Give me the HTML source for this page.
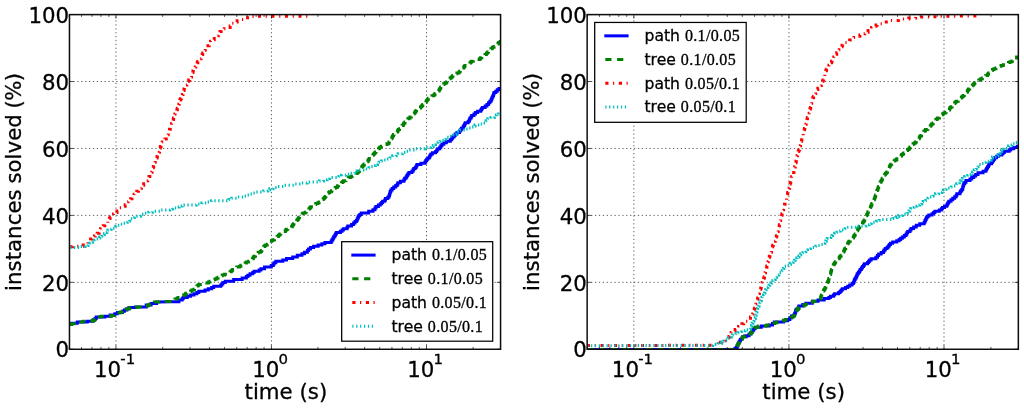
<!DOCTYPE html>
<html lang="en">
<head>
<meta charset="utf-8">
<title>instances solved vs time</title>
<style>
html,body{margin:0;padding:0;background:#fff;}
body{width:1024px;height:408px;overflow:hidden;}
svg{display:block;}
svg text{stroke:#000;stroke-width:0.3px;}
svg text tspan.n{stroke-width:0.32px;}
</style>
</head>
<body>
<svg width="1024" height="408" viewBox="0 0 1024 408">
<rect x="0" y="0" width="1024" height="408" fill="#ffffff"/>
<defs><filter id="soft" x="0" y="0" width="1024" height="408" filterUnits="userSpaceOnUse"><feGaussianBlur stdDeviation="0.42"/></filter>
<clipPath id="clipL"><rect x="69.47" y="14.60" width="431.09" height="334.65"/></clipPath>
<clipPath id="clipR"><rect x="587.15" y="14.60" width="431.20" height="334.65"/></clipPath>
</defs>
<g filter="url(#soft)">
<g stroke="#000" stroke-width="1" stroke-dasharray="1.3 2.6" fill="none" opacity="0.62"><line x1="115.94" y1="349.25" x2="115.94" y2="14.60"/><line x1="271.44" y1="349.25" x2="271.44" y2="14.60"/><line x1="426.50" y1="349.25" x2="426.50" y2="14.60"/><line x1="69.47" y1="282.32" x2="500.56" y2="282.32"/><line x1="69.47" y1="215.39" x2="500.56" y2="215.39"/><line x1="69.47" y1="148.46" x2="500.56" y2="148.46"/><line x1="69.47" y1="81.53" x2="500.56" y2="81.53"/></g>
<g clip-path="url(#clipL)">
<path d="M70.00 324.50 L71.63 324.50 L71.63 323.25 L77.28 323.25 L77.28 322.00 L79.00 322.00 L87.23 322.00 L87.23 321.25 L91.50 321.25 L93.15 321.25 L93.15 319.83 L95.02 319.83 L95.02 318.42 L96.23 318.42 L96.23 317.00 L99.00 317.00 L104.91 317.00 L104.91 316.25 L109.00 316.25 L110.17 316.25 L110.17 315.00 L114.80 315.00 L114.80 313.75 L116.50 313.75 L117.38 313.75 L117.38 312.50 L122.51 312.50 L122.51 311.25 L124.00 311.25 L124.42 311.25 L124.42 310.00 L126.87 310.00 L126.87 308.75 L128.94 308.75 L128.94 307.50 L130.25 307.50 L135.51 307.50 L135.51 307.00 L141.50 307.00 L146.25 307.00 L146.25 305.00 L149.00 305.00 L151.08 305.00 L151.08 303.50 L156.59 303.50 L156.59 302.00 L157.75 302.00 L171.50 301.75 L178.91 301.75 L178.91 300.00 L181.50 300.00 L182.15 300.00 L182.15 298.75 L183.18 298.75 L183.18 297.50 L187.25 297.50 L187.25 296.25 L190.63 296.25 L190.63 295.00 L191.50 295.00 L193.96 295.00 L193.96 293.75 L196.86 293.75 L196.86 292.50 L198.83 292.50 L198.83 291.25 L204.00 291.25 L205.01 291.25 L205.01 290.00 L208.25 290.00 L208.25 288.75 L211.69 288.75 L211.69 287.50 L213.71 287.50 L213.71 286.25 L219.00 286.25 L220.81 286.25 L220.81 285.00 L221.89 285.00 L221.89 283.75 L222.90 283.75 L222.90 282.50 L225.26 282.50 L225.26 281.25 L229.00 281.25 L233.67 281.25 L233.67 279.50 L241.50 279.50 L242.13 279.50 L242.13 278.06 L246.34 278.06 L246.34 276.62 L247.85 276.62 L247.85 275.19 L250.03 275.19 L250.03 273.75 L251.50 273.75 L252.73 273.75 L252.73 272.50 L254.12 272.50 L254.12 271.25 L259.16 271.25 L259.16 270.00 L260.96 270.00 L260.96 268.75 L261.50 268.75 L264.50 268.75 L264.50 267.00 L269.00 267.00 L271.27 267.00 L271.27 265.56 L273.33 265.56 L273.33 264.12 L274.12 264.12 L274.12 262.69 L275.84 262.69 L275.84 261.25 L276.50 261.25 L282.78 261.25 L282.78 259.88 L286.48 259.88 L286.48 258.50 L289.00 258.50 L292.73 258.50 L292.73 256.92 L297.29 256.92 L297.29 255.33 L301.94 255.33 L301.94 253.75 L304.00 253.75 L304.53 253.75 L304.53 252.19 L307.40 252.19 L307.40 250.62 L308.53 250.62 L308.53 249.06 L310.43 249.06 L310.43 247.50 L311.50 247.50 L313.59 247.50 L313.59 246.25 L318.12 246.25 L318.12 245.00 L320.00 245.00 L321.83 245.00 L321.83 243.75 L324.94 243.75 L324.94 242.50 L329.00 242.50 L331.22 242.50 L331.22 241.07 L332.05 241.07 L332.05 239.64 L332.92 239.64 L332.92 238.21 L333.63 238.21 L333.63 236.79 L334.79 236.79 L334.79 235.36 L335.44 235.36 L335.44 233.93 L336.34 233.93 L336.34 232.50 L337.75 232.50 L340.40 232.50 L340.40 231.25 L342.07 231.25 L342.07 230.00 L343.40 230.00 L343.40 228.75 L346.50 228.75 L347.01 228.75 L347.01 227.31 L347.82 227.31 L347.82 225.88 L351.54 225.88 L351.54 224.44 L353.55 224.44 L353.55 223.00 L354.00 223.00 L354.98 223.00 L354.98 221.57 L356.41 221.57 L356.41 220.14 L357.33 220.14 L357.33 218.71 L357.93 218.71 L357.93 217.29 L358.60 217.29 L358.60 215.86 L359.82 215.86 L359.82 214.43 L361.21 214.43 L361.21 213.00 L361.50 213.00 L368.66 213.00 L368.66 211.25 L371.50 211.25 L372.92 211.25 L372.92 209.69 L374.94 209.69 L374.94 208.12 L375.98 208.12 L375.98 206.56 L378.41 206.56 L378.41 205.00 L379.00 205.00 L380.32 205.00 L380.32 203.75 L381.66 203.75 L381.66 202.50 L382.62 202.50 L382.62 201.25 L384.78 201.25 L384.78 200.00 L385.25 200.00 L385.45 200.00 L385.45 198.57 L387.73 198.57 L387.73 197.14 L388.92 197.14 L388.92 195.71 L389.44 195.71 L389.44 194.29 L389.89 194.29 L389.89 192.86 L390.29 192.86 L390.29 191.43 L390.89 191.43 L390.89 190.00 L391.50 190.00 L392.17 190.00 L392.17 188.54 L393.70 188.54 L393.70 187.08 L395.72 187.08 L395.72 185.62 L397.20 185.62 L397.20 184.17 L397.92 184.17 L397.92 182.71 L400.39 182.71 L400.39 181.25 L401.50 181.25 L403.91 181.25 L403.91 179.79 L404.64 179.79 L404.64 178.33 L406.08 178.33 L406.08 176.88 L406.86 176.88 L406.86 175.42 L407.73 175.42 L407.73 173.96 L408.91 173.96 L408.91 172.50 L411.50 172.50 L411.88 172.50 L411.88 171.17 L413.05 171.17 L413.05 169.83 L413.78 169.83 L413.78 168.50 L415.31 168.50 L415.31 167.17 L416.38 167.17 L416.38 165.83 L417.01 165.83 L417.01 164.50 L419.00 164.50 L420.93 164.50 L420.93 163.20 L424.98 163.20 L424.98 161.90 L425.79 161.90 L425.79 160.60 L426.70 160.60 L426.70 159.30 L427.77 159.30 L427.77 158.00 L429.00 158.00 L429.37 158.00 L429.37 156.68 L429.96 156.68 L429.96 155.36 L430.93 155.36 L430.93 154.04 L432.50 154.04 L432.50 152.71 L435.61 152.71 L435.61 151.39 L436.68 151.39 L436.68 150.07 L437.76 150.07 L437.76 148.75 L439.00 148.75 L439.82 148.75 L439.82 147.25 L440.86 147.25 L440.86 145.75 L441.96 145.75 L441.96 144.25 L443.87 144.25 L443.87 142.75 L446.35 142.75 L446.35 141.25 L449.00 141.25 L450.34 141.25 L450.34 139.79 L451.64 139.79 L451.64 138.33 L452.60 138.33 L452.60 136.88 L454.06 136.88 L454.06 135.42 L455.16 135.42 L455.16 133.96 L456.94 133.96 L456.94 132.50 L459.00 132.50 L459.39 132.50 L459.39 131.09 L460.40 131.09 L460.40 129.69 L461.38 129.69 L461.38 128.28 L463.07 128.28 L463.07 126.88 L463.78 126.88 L463.78 125.47 L464.59 125.47 L464.59 124.06 L465.31 124.06 L465.31 122.66 L468.15 122.66 L468.15 121.25 L469.00 121.25 L469.33 121.25 L469.33 119.79 L469.84 119.79 L469.84 118.33 L470.91 118.33 L470.91 116.88 L471.69 116.88 L471.69 115.42 L473.98 115.42 L473.98 113.96 L475.43 113.96 L475.43 112.50 L476.50 112.50 L477.60 112.50 L477.60 111.25 L480.68 111.25 L480.68 110.00 L481.55 110.00 L481.55 108.75 L482.36 108.75 L482.36 107.50 L484.00 107.50 L485.14 107.50 L485.14 105.94 L486.98 105.94 L486.98 104.38 L488.55 104.38 L488.55 102.81 L489.85 102.81 L489.85 101.25 L490.25 101.25 L491.09 101.25 L491.09 99.79 L491.71 99.79 L491.71 98.33 L492.27 98.33 L492.27 96.88 L492.97 96.88 L492.97 95.42 L493.48 95.42 L493.48 93.96 L494.03 93.96 L494.03 92.50 L495.25 92.50 L495.80 92.50 L495.80 91.17 L497.28 91.17 L497.28 89.83 L499.06 89.83 L499.06 88.50 L500.60 88.50" fill="none" stroke="#0000ff" stroke-width="3" stroke-linejoin="miter" stroke-linecap="butt"/>
<path d="M70.00 324.50 L71.33 324.50 L71.33 323.67 L75.92 323.67 L75.92 322.83 L77.58 322.83 L77.58 322.00 L79.00 322.00 L83.41 322.00 L83.41 321.25 L91.50 321.25 L92.22 321.25 L92.22 320.40 L94.42 320.40 L94.42 319.55 L95.23 319.55 L95.23 318.70 L96.53 318.70 L96.53 317.85 L97.75 317.85 L97.75 317.00 L99.00 317.00 L101.17 317.00 L101.17 316.25 L109.00 316.25 L111.45 316.25 L111.45 315.42 L113.93 315.42 L113.93 314.58 L115.26 314.58 L115.26 313.75 L116.50 313.75 L117.01 313.75 L117.01 312.92 L120.00 312.92 L120.00 312.08 L122.25 312.08 L122.25 311.25 L124.00 311.25 L124.35 311.25 L124.35 310.50 L124.86 310.50 L124.86 309.75 L126.11 309.75 L126.11 309.00 L129.13 309.00 L129.13 308.25 L129.79 308.25 L129.79 307.50 L130.25 307.50 L136.15 307.50 L136.15 307.00 L141.50 307.00 L143.97 307.00 L143.97 306.00 L147.98 306.00 L147.98 305.00 L149.00 305.00 L149.59 305.00 L149.59 304.25 L151.45 304.25 L151.45 303.50 L152.35 303.50 L152.35 302.75 L154.28 302.75 L154.28 302.00 L157.75 302.00 L164.11 302.00 L164.11 301.50 L171.50 301.50 L173.21 301.50 L173.21 300.70 L174.09 300.70 L174.09 299.90 L174.90 299.90 L174.90 299.10 L177.06 299.10 L177.06 298.30 L178.07 298.30 L178.07 297.50 L181.50 297.50 L181.79 297.50 L181.79 296.67 L182.82 296.67 L182.82 295.83 L183.63 295.83 L183.63 295.00 L185.05 295.00 L185.05 294.17 L185.78 294.17 L185.78 293.33 L186.93 293.33 L186.93 292.50 L187.75 292.50 L188.79 292.50 L188.79 291.70 L190.67 291.70 L190.67 290.90 L191.72 290.90 L191.72 290.10 L193.85 290.10 L193.85 289.30 L194.58 289.30 L194.58 288.50 L195.10 288.50 L195.10 287.70 L196.28 287.70 L196.28 286.90 L196.93 286.90 L196.93 286.10 L197.90 286.10 L197.90 285.30 L198.72 285.30 L198.72 284.50 L199.00 284.50 L201.90 284.50 L201.90 283.69 L205.28 283.69 L205.28 282.88 L208.47 282.88 L208.47 282.06 L209.99 282.06 L209.99 281.25 L211.50 281.25 L212.07 281.25 L212.07 280.47 L213.74 280.47 L213.74 279.69 L214.88 279.69 L214.88 278.91 L216.79 278.91 L216.79 278.12 L218.10 278.12 L218.10 277.34 L219.05 277.34 L219.05 276.56 L219.98 276.56 L219.98 275.78 L222.17 275.78 L222.17 275.00 L224.00 275.00 L224.57 275.00 L224.57 274.20 L228.27 274.20 L228.27 273.40 L229.04 273.40 L229.04 272.60 L230.05 272.60 L230.05 271.80 L231.11 271.80 L231.11 271.00 L231.88 271.00 L231.88 270.20 L232.59 270.20 L232.59 269.40 L234.57 269.40 L234.57 268.60 L235.43 268.60 L235.43 267.80 L236.71 267.80 L236.71 267.00 L239.00 267.00 L239.55 267.00 L239.55 266.18 L240.88 266.18 L240.88 265.36 L242.79 265.36 L242.79 264.54 L244.01 264.54 L244.01 263.71 L245.13 263.71 L245.13 262.89 L246.36 262.89 L246.36 262.07 L248.61 262.07 L248.61 261.25 L249.00 261.25 L250.43 261.25 L250.43 260.43 L250.99 260.43 L250.99 259.60 L252.38 259.60 L252.38 258.77 L253.03 258.77 L253.03 257.95 L253.53 257.95 L253.53 257.12 L254.10 257.12 L254.10 256.30 L255.50 256.30 L255.50 255.47 L256.35 255.47 L256.35 254.65 L257.20 254.65 L257.20 253.82 L257.72 253.82 L257.72 253.00 L258.00 253.00 L258.17 253.00 L258.17 252.19 L260.42 252.19 L260.42 251.38 L261.42 251.38 L261.42 250.56 L261.87 250.56 L261.87 249.75 L262.26 249.75 L262.26 248.94 L262.60 248.94 L262.60 248.12 L263.14 248.12 L263.14 247.31 L263.70 247.31 L263.70 246.50 L264.00 246.50 L264.50 246.50 L264.50 245.75 L265.66 245.75 L265.66 245.00 L267.24 245.00 L267.24 244.25 L268.06 244.25 L268.06 243.50 L268.56 243.50 L268.56 242.75 L269.20 242.75 L269.20 242.00 L269.67 242.00 L269.67 241.25 L271.62 241.25 L271.62 240.50 L272.50 240.50 L272.94 240.50 L272.94 239.68 L274.51 239.68 L274.51 238.86 L275.36 238.86 L275.36 238.05 L276.69 238.05 L276.69 237.23 L277.22 237.23 L277.22 236.41 L278.44 236.41 L278.44 235.59 L279.09 235.59 L279.09 234.77 L279.95 234.77 L279.95 233.95 L280.75 233.95 L280.75 233.14 L281.41 233.14 L281.41 232.32 L281.95 232.32 L281.95 231.50 L285.00 231.50 L285.27 231.50 L285.27 230.73 L285.65 230.73 L285.65 229.95 L286.41 229.95 L286.41 229.18 L287.80 229.18 L287.80 228.41 L290.68 228.41 L290.68 227.64 L291.53 227.64 L291.53 226.86 L292.15 226.86 L292.15 226.09 L292.52 226.09 L292.52 225.32 L292.99 225.32 L292.99 224.55 L293.51 224.55 L293.51 223.77 L293.98 223.77 L293.98 223.00 L295.00 223.00 L295.58 223.00 L295.58 222.17 L296.16 222.17 L296.16 221.33 L296.79 221.33 L296.79 220.50 L297.18 220.50 L297.18 219.67 L298.00 219.67 L298.00 218.83 L298.47 218.83 L298.47 218.00 L299.10 218.00 L299.10 217.17 L299.57 217.17 L299.57 216.33 L300.56 216.33 L300.56 215.50 L301.33 215.50 L301.33 214.67 L302.25 214.67 L302.25 213.83 L303.10 213.83 L303.10 213.00 L305.00 213.00 L305.33 213.00 L305.33 212.22 L306.19 212.22 L306.19 211.44 L307.02 211.44 L307.02 210.67 L307.53 210.67 L307.53 209.89 L308.89 209.89 L308.89 209.11 L309.47 209.11 L309.47 208.33 L310.16 208.33 L310.16 207.56 L310.75 207.56 L310.75 206.78 L313.26 206.78 L313.26 206.00 L314.00 206.00 L314.30 206.00 L314.30 205.20 L314.79 205.20 L314.79 204.40 L315.73 204.40 L315.73 203.60 L317.86 203.60 L317.86 202.80 L319.10 202.80 L319.10 202.00 L320.00 202.00 L321.02 202.00 L321.02 201.21 L321.64 201.21 L321.64 200.42 L321.96 200.42 L321.96 199.62 L323.18 199.62 L323.18 198.83 L324.14 198.83 L324.14 198.04 L324.59 198.04 L324.59 197.25 L325.45 197.25 L325.45 196.46 L325.91 196.46 L325.91 195.67 L326.35 195.67 L326.35 194.88 L326.73 194.88 L326.73 194.08 L327.46 194.08 L327.46 193.29 L328.72 193.29 L328.72 192.50 L329.00 192.50 L329.57 192.50 L329.57 191.67 L331.46 191.67 L331.46 190.83 L331.95 190.83 L331.95 190.00 L332.48 190.00 L332.48 189.17 L334.46 189.17 L334.46 188.33 L335.23 188.33 L335.23 187.50 L337.04 187.50 L337.04 186.67 L337.59 186.67 L337.59 185.83 L338.59 185.83 L338.59 185.00 L339.00 185.00 L339.27 185.00 L339.27 184.17 L339.89 184.17 L339.89 183.33 L341.63 183.33 L341.63 182.50 L342.42 182.50 L342.42 181.67 L343.50 181.67 L343.50 180.83 L345.91 180.83 L345.91 180.00 L346.81 180.00 L346.81 179.17 L347.61 179.17 L347.61 178.33 L348.41 178.33 L348.41 177.50 L349.00 177.50 L350.28 177.50 L350.28 176.72 L352.02 176.72 L352.02 175.94 L353.30 175.94 L353.30 175.16 L354.17 175.16 L354.17 174.38 L355.47 174.38 L355.47 173.59 L356.96 173.59 L356.96 172.81 L358.02 172.81 L358.02 172.03 L358.59 172.03 L358.59 171.25 L359.00 171.25 L359.61 171.25 L359.61 170.45 L360.28 170.45 L360.28 169.66 L360.61 169.66 L360.61 168.86 L361.29 168.86 L361.29 168.07 L361.69 168.07 L361.69 167.27 L362.06 167.27 L362.06 166.48 L362.72 166.48 L362.72 165.68 L363.29 165.68 L363.29 164.89 L364.31 164.89 L364.31 164.09 L364.62 164.09 L364.62 163.30 L365.79 163.30 L365.79 162.50 L366.50 162.50 L366.72 162.50 L366.72 161.70 L367.81 161.70 L367.81 160.91 L368.14 160.91 L368.14 160.11 L368.93 160.11 L368.93 159.32 L369.25 159.32 L369.25 158.52 L371.04 158.52 L371.04 157.73 L371.79 157.73 L371.79 156.93 L372.32 156.93 L372.32 156.14 L372.87 156.14 L372.87 155.34 L373.29 155.34 L373.29 154.55 L373.81 154.55 L373.81 153.75 L374.00 153.75 L374.47 153.75 L374.47 152.91 L375.35 152.91 L375.35 152.06 L376.07 152.06 L376.07 151.22 L376.91 151.22 L376.91 150.38 L377.98 150.38 L377.98 149.53 L378.44 149.53 L378.44 148.69 L379.34 148.69 L379.34 147.84 L380.04 147.84 L380.04 147.00 L380.25 147.00 L381.39 147.00 L381.39 146.19 L382.33 146.19 L382.33 145.38 L385.54 145.38 L385.54 144.56 L386.97 144.56 L386.97 143.75 L387.75 143.75 L388.73 143.75 L388.73 142.92 L389.10 142.92 L389.10 142.08 L389.41 142.08 L389.41 141.25 L390.33 141.25 L390.33 140.42 L390.56 140.42 L390.56 139.58 L391.50 139.58 L391.50 138.75 L391.80 138.75 L391.80 137.92 L392.08 137.92 L392.08 137.08 L392.50 137.08 L392.50 136.25 L392.75 136.25 L393.05 136.25 L393.05 135.41 L393.49 135.41 L393.49 134.56 L393.92 134.56 L393.92 133.72 L394.35 133.72 L394.35 132.88 L396.22 132.88 L396.22 132.03 L397.42 132.03 L397.42 131.19 L397.89 131.19 L397.89 130.34 L398.34 130.34 L398.34 129.50 L399.00 129.50 L399.52 129.50 L399.52 128.68 L400.46 128.68 L400.46 127.85 L400.95 127.85 L400.95 127.03 L401.58 127.03 L401.58 126.20 L402.05 126.20 L402.05 125.38 L403.19 125.38 L403.19 124.55 L403.52 124.55 L403.52 123.72 L404.02 123.72 L404.02 122.90 L405.07 122.90 L405.07 122.08 L405.86 122.08 L405.86 121.25 L406.50 121.25 L406.72 121.25 L406.72 120.42 L407.41 120.42 L407.41 119.58 L407.85 119.58 L407.85 118.75 L408.91 118.75 L408.91 117.92 L410.06 117.92 L410.06 117.08 L411.35 117.08 L411.35 116.25 L412.21 116.25 L412.21 115.42 L412.72 115.42 L412.72 114.58 L413.50 114.58 L413.50 113.75 L414.00 113.75 L414.35 113.75 L414.35 112.92 L415.02 112.92 L415.02 112.08 L415.59 112.08 L415.59 111.25 L416.25 111.25 L416.25 110.42 L416.59 110.42 L416.59 109.58 L417.73 109.58 L417.73 108.75 L419.51 108.75 L419.51 107.92 L420.48 107.92 L420.48 107.08 L421.28 107.08 L421.28 106.25 L421.50 106.25 L422.00 106.25 L422.00 105.43 L422.81 105.43 L422.81 104.61 L423.26 104.61 L423.26 103.79 L423.85 103.79 L423.85 102.96 L425.91 102.96 L425.91 102.14 L426.23 102.14 L426.23 101.32 L426.74 101.32 L426.74 100.50 L427.00 100.50 L427.24 100.50 L427.24 99.71 L427.77 99.71 L427.77 98.93 L428.42 98.93 L428.42 98.14 L429.64 98.14 L429.64 97.36 L430.80 97.36 L430.80 96.57 L431.94 96.57 L431.94 95.79 L433.73 95.79 L433.73 95.00 L434.00 95.00 L434.52 95.00 L434.52 94.20 L435.10 94.20 L435.10 93.39 L436.01 93.39 L436.01 92.59 L436.88 92.59 L436.88 91.79 L437.98 91.79 L437.98 90.98 L438.83 90.98 L438.83 90.18 L439.44 90.18 L439.44 89.38 L439.85 89.38 L439.85 88.57 L440.40 88.57 L440.40 87.77 L440.84 87.77 L440.84 86.96 L442.48 86.96 L442.48 86.16 L443.10 86.16 L443.10 85.36 L443.39 85.36 L443.39 84.55 L443.74 84.55 L443.74 83.75 L444.00 83.75 L444.82 83.75 L444.82 82.92 L446.47 82.92 L446.47 82.08 L446.98 82.08 L446.98 81.25 L447.56 81.25 L447.56 80.42 L448.18 80.42 L448.18 79.58 L449.22 79.58 L449.22 78.75 L450.07 78.75 L450.07 77.92 L451.19 77.92 L451.19 77.08 L452.37 77.08 L452.37 76.25 L452.85 76.25 L452.85 75.42 L455.43 75.42 L455.43 74.58 L456.17 74.58 L456.17 73.75 L456.50 73.75 L456.86 73.75 L456.86 72.92 L458.96 72.92 L458.96 72.08 L459.81 72.08 L459.81 71.25 L460.26 71.25 L460.26 70.42 L460.75 70.42 L460.75 69.58 L461.25 69.58 L461.25 68.75 L461.72 68.75 L461.72 67.92 L463.71 67.92 L463.71 67.08 L464.38 67.08 L464.38 66.25 L464.93 66.25 L464.93 65.42 L467.23 65.42 L467.23 64.58 L467.99 64.58 L467.99 63.75 L469.00 63.75 L469.83 63.75 L469.83 62.90 L470.63 62.90 L470.63 62.05 L471.45 62.05 L471.45 61.20 L473.26 61.20 L473.26 60.35 L475.91 60.35 L475.91 59.50 L479.00 59.50 L479.66 59.50 L479.66 58.67 L480.53 58.67 L480.53 57.85 L481.74 57.85 L481.74 57.02 L483.36 57.02 L483.36 56.20 L483.81 56.20 L483.81 55.38 L485.01 55.38 L485.01 54.55 L486.35 54.55 L486.35 53.73 L486.77 53.73 L486.77 52.90 L487.58 52.90 L487.58 52.08 L488.50 52.08 L488.50 51.25 L489.00 51.25 L489.82 51.25 L489.82 50.45 L490.40 50.45 L490.40 49.66 L490.95 49.66 L490.95 48.86 L492.03 48.86 L492.03 48.07 L492.56 48.07 L492.56 47.27 L494.09 47.27 L494.09 46.48 L496.02 46.48 L496.02 45.68 L496.66 45.68 L496.66 44.89 L497.45 44.89 L497.45 44.09 L497.97 44.09 L497.97 43.30 L498.73 43.30 L498.73 42.50 L499.00 42.50 L500.19 42.50 L500.19 41.50 L500.60 41.50" fill="none" stroke="#008000" stroke-width="3" stroke-linejoin="miter" stroke-linecap="butt" stroke-dasharray="6.6 5.2"/>
<path d="M70.00 246.75 L72.53 246.75 L72.53 246.25 L79.00 246.25 L83.19 246.25 L83.19 245.00 L85.06 245.00 L85.06 243.75 L86.50 243.75 L88.02 243.75 L88.02 242.19 L89.65 242.19 L89.65 240.62 L90.60 240.62 L90.60 239.06 L92.06 239.06 L92.06 237.50 L94.00 237.50 L94.38 237.50 L94.38 236.05 L95.17 236.05 L95.17 234.60 L97.20 234.60 L97.20 233.15 L99.18 233.15 L99.18 231.70 L99.80 231.70 L99.80 230.25 L100.51 230.25 L100.51 228.80 L101.50 228.80 L101.76 228.80 L101.76 227.33 L103.28 227.33 L103.28 225.87 L104.75 225.87 L104.75 224.40 L106.50 224.40 L106.50 222.93 L107.81 222.93 L107.81 221.47 L108.50 221.47 L108.50 220.00 L109.00 220.00 L109.41 220.00 L109.41 218.50 L110.04 218.50 L110.04 217.00 L112.22 217.00 L112.22 215.50 L113.54 215.50 L113.54 214.00 L115.93 214.00 L115.93 212.50 L116.50 212.50 L117.01 212.50 L117.01 210.95 L118.60 210.95 L118.60 209.40 L119.37 209.40 L119.37 207.85 L121.02 207.85 L121.02 206.30 L124.00 206.30 L125.18 206.30 L125.18 204.80 L125.81 204.80 L125.81 203.30 L127.20 203.30 L127.20 201.80 L128.05 201.80 L128.05 200.30 L130.25 200.30 L130.60 200.30 L130.60 198.79 L131.98 198.79 L131.98 197.28 L132.80 197.28 L132.80 195.78 L134.07 195.78 L134.07 194.27 L135.00 194.27 L135.00 192.76 L136.77 192.76 L136.77 191.25 L137.75 191.25 L138.45 191.25 L138.45 189.75 L139.20 189.75 L139.20 188.25 L141.41 188.25 L141.41 186.75 L142.72 186.75 L142.72 185.25 L143.72 185.25 L143.72 183.75 L144.00 183.75 L145.46 183.75 L145.46 182.29 L146.21 182.29 L146.21 180.83 L147.71 180.83 L147.71 179.38 L148.16 179.38 L148.16 177.92 L148.99 177.92 L148.99 176.46 L149.80 176.46 L149.80 175.00 L150.25 175.00 L151.04 175.00 L151.04 173.57 L151.71 173.57 L151.71 172.14 L152.11 172.14 L152.11 170.71 L152.33 170.71 L152.33 169.29 L152.72 169.29 L152.72 167.86 L153.33 167.86 L153.33 166.43 L153.63 166.43 L153.63 165.00 L154.00 165.00 L154.21 165.00 L154.21 163.59 L154.80 163.59 L154.80 162.19 L155.22 162.19 L155.22 160.78 L155.91 160.78 L155.91 159.38 L156.49 159.38 L156.49 157.97 L157.06 157.97 L157.06 156.56 L157.36 156.56 L157.36 155.16 L157.84 155.16 L157.84 153.75 L158.50 153.75 L159.27 153.75 L159.27 152.29 L159.51 152.29 L159.51 150.83 L159.79 150.83 L159.79 149.38 L160.12 149.38 L160.12 147.92 L160.34 147.92 L160.34 146.46 L161.00 146.46 L161.00 145.00 L161.50 145.00 L161.79 145.00 L161.79 143.50 L162.23 143.50 L162.23 142.00 L163.97 142.00 L163.97 140.50 L165.01 140.50 L165.01 139.00 L166.25 139.00 L166.25 137.50 L166.50 137.50 L167.12 137.50 L167.12 136.11 L167.53 136.11 L167.53 134.72 L168.24 134.72 L168.24 133.33 L168.78 133.33 L168.78 131.94 L169.12 131.94 L169.12 130.56 L169.50 130.56 L169.50 129.17 L170.26 129.17 L170.26 127.78 L170.75 127.78 L170.75 126.39 L171.34 126.39 L171.34 125.00 L171.50 125.00 L171.60 125.00 L171.60 123.61 L172.36 123.61 L172.36 122.22 L172.95 122.22 L172.95 120.83 L173.24 120.83 L173.24 119.44 L173.48 119.44 L173.48 118.06 L173.72 118.06 L173.72 116.67 L174.35 116.67 L174.35 115.28 L174.89 115.28 L174.89 113.89 L175.07 113.89 L175.07 112.50 L175.25 112.50 L175.53 112.50 L175.53 111.11 L176.86 111.11 L176.86 109.72 L177.36 109.72 L177.36 108.33 L177.71 108.33 L177.71 106.94 L178.47 106.94 L178.47 105.56 L178.90 105.56 L178.90 104.17 L179.16 104.17 L179.16 102.78 L179.53 102.78 L179.53 101.39 L179.80 101.39 L179.80 100.00 L180.25 100.00 L180.47 100.00 L180.47 98.64 L181.34 98.64 L181.34 97.27 L182.12 97.27 L182.12 95.91 L182.38 95.91 L182.38 94.55 L182.99 94.55 L182.99 93.18 L183.32 93.18 L183.32 91.82 L183.62 91.82 L183.62 90.45 L183.97 90.45 L183.97 89.09 L184.32 89.09 L184.32 87.73 L184.71 87.73 L184.71 86.36 L184.97 86.36 L184.97 85.00 L186.50 85.00 L186.89 85.00 L186.89 83.75 L187.22 83.75 L187.22 82.50 L188.00 82.50 L188.00 81.25 L188.67 81.25 L188.67 80.00 L189.00 80.00 L189.72 80.00 L189.72 78.50 L191.24 78.50 L191.24 77.00 L191.55 77.00 L191.55 75.50 L191.89 75.50 L191.89 74.00 L192.24 74.00 L192.24 72.50 L192.75 72.50 L192.93 72.50 L192.93 71.10 L193.24 71.10 L193.24 69.70 L193.69 69.70 L193.69 68.30 L195.31 68.30 L195.31 66.90 L195.80 66.90 L195.80 65.50 L196.50 65.50 L196.81 65.50 L196.81 64.15 L197.20 64.15 L197.20 62.80 L197.81 62.80 L197.81 61.45 L198.32 61.45 L198.32 60.10 L199.26 60.10 L199.26 58.75 L200.25 58.75 L201.03 58.75 L201.03 57.32 L201.42 57.32 L201.42 55.89 L202.17 55.89 L202.17 54.46 L202.71 54.46 L202.71 53.04 L203.56 53.04 L203.56 51.61 L204.19 51.61 L204.19 50.18 L205.24 50.18 L205.24 48.75 L206.50 48.75 L206.84 48.75 L206.84 47.25 L207.96 47.25 L207.96 45.75 L209.20 45.75 L209.20 44.25 L209.83 44.25 L209.83 42.75 L210.53 42.75 L210.53 41.25 L212.75 41.25 L213.41 41.25 L213.41 39.85 L214.28 39.85 L214.28 38.45 L215.91 38.45 L215.91 37.05 L216.77 37.05 L216.77 35.65 L218.37 35.65 L218.37 34.25 L219.00 34.25 L219.38 34.25 L219.38 32.88 L220.02 32.88 L220.02 31.50 L221.11 31.50 L221.11 30.12 L224.25 30.12 L224.25 28.75 L225.25 28.75 L226.53 28.75 L226.53 27.38 L230.12 27.38 L230.12 26.00 L231.14 26.00 L231.14 24.62 L232.09 24.62 L232.09 23.25 L234.00 23.25 L235.19 23.25 L235.19 22.00 L237.16 22.00 L237.16 20.75 L239.51 20.75 L239.51 19.50 L240.00 19.50 L244.07 19.50 L244.07 17.80 L246.00 17.80 L249.06 17.80 L249.06 16.50 L252.00 16.50 L254.67 16.50 L254.67 16.20 L260.00 16.20 L307.75 16.20" fill="none" stroke="#ff0000" stroke-width="3" stroke-linejoin="miter" stroke-linecap="butt" stroke-dasharray="3.0 4.7 1.2 4.6"/>
<path d="M70.00 247.50 L79.00 247.50 L80.35 247.50 L80.35 246.50 L85.06 246.50 L85.06 245.50 L86.50 245.50 L88.02 245.50 L88.02 244.43 L89.65 244.43 L89.65 243.35 L90.60 243.35 L90.60 242.27 L92.56 242.27 L92.56 241.20 L94.00 241.20 L94.43 241.20 L94.43 240.16 L95.32 240.16 L95.32 239.12 L98.43 239.12 L98.43 238.08 L99.65 238.08 L99.65 237.04 L100.46 237.04 L100.46 236.00 L101.50 236.00 L101.81 236.00 L101.81 234.86 L104.35 234.86 L104.35 233.72 L105.00 233.72 L105.00 232.58 L106.85 232.58 L106.85 231.44 L107.63 231.44 L107.63 230.30 L109.00 230.30 L109.51 230.30 L109.51 229.28 L111.15 229.28 L111.15 228.25 L114.93 228.25 L114.93 227.22 L115.88 227.22 L115.88 226.20 L116.50 226.20 L117.15 226.20 L117.15 225.20 L120.29 225.20 L120.29 224.20 L122.25 224.20 L122.25 223.20 L125.63 223.20 L125.63 222.20 L126.50 222.20 L127.22 222.20 L127.22 221.01 L129.62 221.01 L129.62 219.82 L130.66 219.82 L130.66 218.63 L133.17 218.63 L133.17 217.44 L134.28 217.44 L134.28 216.25 L139.00 216.25 L140.54 216.25 L140.54 215.25 L141.55 215.25 L141.55 214.25 L143.73 214.25 L143.73 213.25 L146.50 213.25 L148.81 213.25 L148.81 212.25 L152.26 212.25 L152.26 211.25 L156.50 211.25 L161.17 211.25 L161.17 210.00 L169.00 210.00 L169.79 210.00 L169.79 209.00 L172.47 209.00 L172.47 208.00 L177.01 208.00 L177.01 207.00 L178.98 207.00 L178.98 206.00 L181.94 206.00 L181.94 205.00 L184.00 205.00 L196.32 205.00 L196.32 204.00 L201.91 204.00 L201.91 203.00 L204.00 203.00 L206.59 203.00 L206.59 201.88 L211.49 201.88 L211.49 200.75 L219.00 200.75 L228.87 200.75 L228.87 199.50 L231.66 199.50 L231.66 198.25 L236.90 198.25 L236.90 197.00 L239.00 197.00 L243.44 197.00 L243.44 196.00 L246.47 196.00 L246.47 195.00 L250.05 195.00 L250.05 194.00 L252.64 194.00 L252.64 193.00 L256.16 193.00 L256.16 192.00 L259.00 192.00 L263.62 192.00 L263.62 190.92 L267.85 190.92 L267.85 189.83 L269.79 189.83 L269.79 188.75 L271.50 188.75 L273.03 188.75 L273.03 187.58 L277.55 187.58 L277.55 186.42 L283.52 186.42 L283.52 185.25 L289.00 185.25 L294.23 185.25 L294.23 184.12 L300.68 184.12 L300.68 183.00 L304.00 183.00 L307.04 183.00 L307.04 182.00 L314.00 182.00 L319.50 182.00 L319.50 180.88 L323.59 180.88 L323.59 179.75 L327.09 179.75 L327.09 178.62 L329.44 178.62 L329.44 177.50 L334.00 177.50 L338.95 177.50 L338.95 176.42 L341.58 176.42 L341.58 175.33 L346.01 175.33 L346.01 174.25 L349.00 174.25 L350.02 174.25 L350.02 173.19 L354.79 173.19 L354.79 172.12 L357.16 172.12 L357.16 171.06 L358.94 171.06 L358.94 170.00 L364.00 170.00 L364.76 170.00 L364.76 168.88 L369.06 168.88 L369.06 167.75 L370.72 167.75 L370.72 166.62 L373.40 166.62 L373.40 165.50 L374.00 165.50 L375.42 165.50 L375.42 164.40 L377.56 164.40 L377.56 163.30 L379.01 163.30 L379.01 162.20 L381.42 162.20 L381.42 161.10 L383.49 161.10 L383.49 160.00 L384.00 160.00 L386.59 160.00 L386.59 158.96 L390.12 158.96 L390.12 157.92 L391.36 157.92 L391.36 156.88 L392.70 156.88 L392.70 155.83 L396.24 155.83 L396.24 154.79 L398.07 154.79 L398.07 153.75 L399.00 153.75 L402.42 153.75 L402.42 152.50 L406.13 152.50 L406.13 151.25 L408.93 151.25 L408.93 150.00 L414.00 150.00 L415.29 150.00 L415.29 148.75 L424.93 148.75 L424.93 147.50 L426.50 147.50 L430.81 147.50 L430.81 146.46 L433.30 146.46 L433.30 145.42 L434.46 145.42 L434.46 144.38 L435.49 144.38 L435.49 143.33 L436.40 143.33 L436.40 142.29 L437.73 142.29 L437.73 141.25 L439.00 141.25 L439.92 141.25 L439.92 140.25 L443.70 140.25 L443.70 139.25 L445.71 139.25 L445.71 138.25 L446.77 138.25 L446.77 137.25 L450.03 137.25 L450.03 136.25 L451.50 136.25 L453.42 136.25 L453.42 135.21 L455.35 135.21 L455.35 134.17 L456.26 134.17 L456.26 133.12 L458.05 133.12 L458.05 132.08 L459.04 132.08 L459.04 131.04 L460.12 131.04 L460.12 130.00 L464.00 130.00 L464.85 130.00 L464.85 129.00 L467.87 129.00 L467.87 128.00 L471.12 128.00 L471.12 127.00 L473.71 127.00 L473.71 126.00 L475.01 126.00 L475.01 125.00 L479.00 125.00 L480.40 125.00 L480.40 123.96 L483.51 123.96 L483.51 122.92 L485.45 122.92 L485.45 121.88 L486.12 121.88 L486.12 120.83 L486.90 120.83 L486.90 119.79 L487.83 119.79 L487.83 118.75 L489.00 118.75 L490.92 118.75 L490.92 117.50 L494.28 117.50 L494.28 116.25 L496.34 116.25 L496.34 115.00 L497.75 115.00 L498.46 115.00 L498.46 114.00 L500.60 114.00" fill="none" stroke="#00bfbf" stroke-width="3" stroke-linejoin="miter" stroke-linecap="butt" stroke-dasharray="1.35 2.55"/>
</g>
<path d="M115.94 349.25 v-4 M115.94 14.60 v4 M271.44 349.25 v-4 M271.44 14.60 v4 M426.50 349.25 v-4 M426.50 14.60 v4 M69.47 349.25 h4.2 M500.56 349.25 h-3.8 M69.47 282.32 h4.2 M500.56 282.32 h-3.8 M69.47 215.39 h4.2 M500.56 215.39 h-3.8 M69.47 148.46 h4.2 M500.56 148.46 h-3.8 M69.47 81.53 h4.2 M500.56 81.53 h-3.8 M69.47 14.60 h4.2 M500.56 14.60 h-3.8 M69.25 349.25 v-2.3 M69.25 14.60 v2.3 M81.54 349.25 v-2.3 M81.54 14.60 v2.3 M91.93 349.25 v-2.3 M91.93 14.60 v2.3 M100.93 349.25 v-2.3 M100.93 14.60 v2.3 M108.87 349.25 v-2.3 M108.87 14.60 v2.3 M162.69 349.25 v-2.3 M162.69 14.60 v2.3 M190.02 349.25 v-2.3 M190.02 14.60 v2.3 M209.41 349.25 v-2.3 M209.41 14.60 v2.3 M224.45 349.25 v-2.3 M224.45 14.60 v2.3 M236.74 349.25 v-2.3 M236.74 14.60 v2.3 M247.13 349.25 v-2.3 M247.13 14.60 v2.3 M256.13 349.25 v-2.3 M256.13 14.60 v2.3 M264.07 349.25 v-2.3 M264.07 14.60 v2.3 M317.89 349.25 v-2.3 M317.89 14.60 v2.3 M345.22 349.25 v-2.3 M345.22 14.60 v2.3 M364.61 349.25 v-2.3 M364.61 14.60 v2.3 M379.65 349.25 v-2.3 M379.65 14.60 v2.3 M391.94 349.25 v-2.3 M391.94 14.60 v2.3 M402.33 349.25 v-2.3 M402.33 14.60 v2.3 M411.33 349.25 v-2.3 M411.33 14.60 v2.3 M419.27 349.25 v-2.3 M419.27 14.60 v2.3 M473.09 349.25 v-2.3 M473.09 14.60 v2.3 M500.42 349.25 v-2.3 M500.42 14.60 v2.3" stroke="#000" stroke-width="0.75" fill="none" opacity="0.9"/>
<rect x="69.47" y="14.60" width="431.09" height="334.65" fill="none" stroke="#111" stroke-width="1.5"/>
<g font-family='"DejaVu Sans", "Liberation Sans", sans-serif' font-size="21.3" fill="#000" text-anchor="end">
<text x="69.17" y="357.45">0</text>
<text x="69.17" y="290.52">20</text>
<text x="69.17" y="223.59">40</text>
<text x="69.17" y="156.66">60</text>
<text x="69.17" y="89.73">80</text>
<text x="69.17" y="22.80">100</text>
</g>
<g font-family='"DejaVu Sans", "Liberation Sans", sans-serif' font-size="21.3" fill="#000">
<text x="93.96" y="376.6">10<tspan font-size="14.91" dx="-0.8" dy="-12.5">-1</tspan></text>
<text x="252.15" y="376.6">10<tspan font-size="14.91" dx="-0.8" dy="-12.5">0</tspan></text>
<text x="407.21" y="376.6">10<tspan font-size="14.91" dx="-0.8" dy="-12.5">1</tspan></text>
</g>
<text x="285.91" y="399.3" font-family='"DejaVu Sans", "Liberation Sans", sans-serif' font-size="21.3" text-anchor="middle" fill="#000">time (s)</text>
<text transform="translate(20.97 291.0) rotate(-90)" font-family='"DejaVu Sans", "Liberation Sans", sans-serif' font-size="21.3" fill="#000" word-spacing="-1.1"><tspan letter-spacing="0.04">instances solved </tspan><tspan letter-spacing="-0.75">(%)</tspan></text>
<rect x="341.70" y="241.70" width="151.00" height="99.50" fill="#fff" stroke="#000" stroke-width="1.25"/>
<line x1="351.30" y1="255.10" x2="375.60" y2="255.10" stroke="#0000ff" stroke-width="3"/>
<text x="391.50" y="260.30" font-family='"DejaVu Sans", "Liberation Sans", sans-serif' font-size="15.6" fill="#000">path <tspan class="n" font-family='"Liberation Serif", "DejaVu Serif", serif' font-size="16" letter-spacing="0.35">0.1/0.05</tspan></text>
<line x1="352.30" y1="278.80" x2="375.60" y2="278.80" stroke="#008000" stroke-width="3" stroke-dasharray="6.2 5.6"/>
<text x="391.50" y="284.10" font-family='"DejaVu Sans", "Liberation Sans", sans-serif' font-size="15.6" fill="#000">tree <tspan class="n" font-family='"Liberation Serif", "DejaVu Serif", serif' font-size="16" letter-spacing="0.35">0.1/0.05</tspan></text>
<line x1="352.30" y1="302.50" x2="375.60" y2="302.50" stroke="#ff0000" stroke-width="3" stroke-dasharray="3.2 4.5 1.2 4.6"/>
<text x="391.50" y="307.90" font-family='"DejaVu Sans", "Liberation Sans", sans-serif' font-size="15.6" fill="#000">path <tspan class="n" font-family='"Liberation Serif", "DejaVu Serif", serif' font-size="16" letter-spacing="0.35">0.05/0.1</tspan></text>
<line x1="352.30" y1="326.20" x2="375.60" y2="326.20" stroke="#00bfbf" stroke-width="3" stroke-dasharray="1.2 2.7"/>
<text x="391.50" y="331.70" font-family='"DejaVu Sans", "Liberation Sans", sans-serif' font-size="15.6" fill="#000">tree <tspan class="n" font-family='"Liberation Serif", "DejaVu Serif", serif' font-size="16" letter-spacing="0.35">0.05/0.1</tspan></text>
<g stroke="#000" stroke-width="1" stroke-dasharray="1.3 2.6" fill="none" opacity="0.62"><line x1="633.85" y1="349.25" x2="633.85" y2="14.60"/><line x1="788.94" y1="349.25" x2="788.94" y2="14.60"/><line x1="944.00" y1="349.25" x2="944.00" y2="14.60"/><line x1="587.15" y1="282.32" x2="1018.35" y2="282.32"/><line x1="587.15" y1="215.39" x2="1018.35" y2="215.39"/><line x1="587.15" y1="148.46" x2="1018.35" y2="148.46"/><line x1="587.15" y1="81.53" x2="1018.35" y2="81.53"/></g>
<g clip-path="url(#clipR)">
<path d="M587.00 349.60 L734.50 349.60 L734.86 349.60 L734.86 348.55 L736.12 348.55 L736.12 347.50 L736.50 347.50 L737.15 347.50 L737.15 346.07 L737.84 346.07 L737.84 344.65 L738.25 344.65 L738.25 343.23 L739.09 343.23 L739.09 341.80 L739.70 341.80 L739.93 341.80 L739.93 340.52 L740.42 340.52 L740.42 339.25 L741.94 339.25 L741.94 337.98 L742.58 337.98 L742.58 336.70 L743.20 336.70 L746.22 336.70 L746.22 335.80 L747.50 335.80 L749.05 335.80 L749.05 334.10 L750.76 334.10 L750.76 332.40 L751.80 332.40 L752.02 332.40 L752.02 331.10 L753.01 331.10 L753.01 329.80 L753.97 329.80 L753.97 328.50 L755.09 328.50 L755.09 327.20 L756.00 327.20 L761.29 327.20 L761.29 326.00 L762.90 326.00 L769.27 326.00 L769.27 325.00 L771.50 325.00 L772.49 325.00 L772.49 323.50 L774.24 323.50 L774.24 322.00 L780.10 322.00 L783.75 322.00 L783.75 320.75 L787.53 320.75 L787.53 319.50 L788.70 319.50 L789.87 319.50 L789.87 317.75 L791.40 317.75 L791.40 316.00 L793.80 316.00 L794.00 316.00 L794.00 314.64 L794.69 314.64 L794.69 313.28 L795.39 313.28 L795.39 311.92 L795.70 311.92 L795.70 310.56 L796.10 310.56 L796.10 309.20 L797.30 309.20 L798.12 309.20 L798.12 307.60 L798.82 307.60 L798.82 306.00 L800.75 306.00 L802.77 306.00 L802.77 304.62 L805.79 304.62 L805.79 303.25 L809.50 303.25 L812.30 303.25 L812.30 301.25 L817.00 301.25 L818.02 301.25 L818.02 299.88 L824.22 299.88 L824.22 298.50 L826.00 298.50 L828.82 298.50 L828.82 297.38 L830.45 297.38 L830.45 296.25 L832.50 296.25 L833.48 296.25 L833.48 295.00 L834.59 295.00 L834.59 293.75 L838.63 293.75 L838.63 292.50 L840.06 292.50 L840.06 291.25 L840.50 291.25 L841.25 291.25 L841.25 290.00 L842.33 290.00 L842.33 288.75 L843.00 288.75 L845.40 288.75 L845.40 287.50 L847.70 287.50 L847.70 286.25 L849.71 286.25 L849.71 285.00 L850.50 285.00 L852.05 285.00 L852.05 283.59 L853.34 283.59 L853.34 282.19 L854.08 282.19 L854.08 280.78 L854.46 280.78 L854.46 279.38 L855.20 279.38 L855.20 277.97 L856.30 277.97 L856.30 276.56 L856.75 276.56 L856.75 275.16 L857.28 275.16 L857.28 273.75 L858.00 273.75 L858.37 273.75 L858.37 272.32 L859.42 272.32 L859.42 270.89 L860.16 270.89 L860.16 269.46 L861.36 269.46 L861.36 268.04 L862.40 268.04 L862.40 266.61 L863.52 266.61 L863.52 265.18 L864.37 265.18 L864.37 263.75 L865.50 263.75 L867.56 263.75 L867.56 262.50 L868.60 262.50 L868.60 261.25 L869.66 261.25 L869.66 260.00 L871.16 260.00 L871.16 258.75 L873.00 258.75 L875.86 258.75 L875.86 257.19 L877.44 257.19 L877.44 255.62 L878.63 255.62 L878.63 254.06 L881.17 254.06 L881.17 252.50 L883.00 252.50 L883.43 252.50 L883.43 251.19 L884.01 251.19 L884.01 249.88 L885.27 249.88 L885.27 248.56 L887.11 248.56 L887.11 247.25 L888.26 247.25 L888.26 245.94 L889.31 245.94 L889.31 244.62 L890.47 244.62 L890.47 243.31 L892.65 243.31 L892.65 242.00 L893.00 242.00 L896.74 242.00 L896.74 240.75 L899.12 240.75 L899.12 239.50 L900.66 239.50 L900.66 238.25 L902.39 238.25 L902.39 237.00 L903.00 237.00 L904.34 237.00 L904.34 235.60 L905.97 235.60 L905.97 234.20 L906.81 234.20 L906.81 232.80 L907.70 232.80 L907.70 231.40 L909.99 231.40 L909.99 230.00 L910.50 230.00 L911.03 230.00 L911.03 228.44 L913.62 228.44 L913.62 226.88 L916.29 226.88 L916.29 225.31 L919.74 225.31 L919.74 223.75 L920.50 223.75 L924.13 223.75 L924.13 222.25 L924.93 222.25 L924.93 220.75 L925.64 220.75 L925.64 219.25 L926.29 219.25 L926.29 217.75 L927.19 217.75 L927.19 216.25 L928.00 216.25 L928.84 216.25 L928.84 215.00 L932.06 215.00 L932.06 213.75 L933.61 213.75 L933.61 212.50 L934.87 212.50 L934.87 211.25 L938.00 211.25 L939.27 211.25 L939.27 210.00 L941.40 210.00 L941.40 208.75 L942.44 208.75 L942.44 207.50 L944.54 207.50 L944.54 206.25 L945.50 206.25 L946.79 206.25 L946.79 205.00 L947.32 205.00 L947.32 203.75 L948.20 203.75 L948.20 202.50 L948.87 202.50 L948.87 201.25 L950.50 201.25 L951.00 201.25 L951.00 199.75 L952.76 199.75 L952.76 198.25 L954.66 198.25 L954.66 196.75 L956.17 196.75 L956.17 195.25 L956.92 195.25 L956.92 193.75 L959.25 193.75 L959.92 193.75 L959.92 192.32 L960.44 192.32 L960.44 190.89 L961.72 190.89 L961.72 189.46 L962.64 189.46 L962.64 188.04 L962.93 188.04 L962.93 186.61 L963.27 186.61 L963.27 185.18 L963.69 185.18 L963.69 183.75 L964.25 183.75 L964.78 183.75 L964.78 182.19 L966.00 182.19 L966.00 180.62 L969.97 180.62 L969.97 179.06 L971.73 179.06 L971.73 177.50 L973.00 177.50 L973.73 177.50 L973.73 175.94 L975.70 175.94 L975.70 174.38 L978.00 174.38 L978.00 172.81 L983.04 172.81 L983.04 171.25 L985.50 171.25 L985.91 171.25 L985.91 169.75 L986.58 169.75 L986.58 168.25 L987.53 168.25 L987.53 166.75 L988.48 166.75 L988.48 165.25 L989.17 165.25 L989.17 163.75 L990.50 163.75 L991.56 163.75 L991.56 162.25 L992.63 162.25 L992.63 160.75 L993.45 160.75 L993.45 159.25 L994.65 159.25 L994.65 157.75 L996.40 157.75 L996.40 156.25 L998.00 156.25 L998.64 156.25 L998.64 155.00 L1001.82 155.00 L1001.82 153.75 L1003.03 153.75 L1003.03 152.50 L1004.34 152.50 L1004.34 151.25 L1008.00 151.25 L1009.20 151.25 L1009.20 150.00 L1010.73 150.00 L1010.73 148.75 L1013.78 148.75 L1013.78 147.50 L1017.25 147.50 L1017.25 146.25 L1018.40 146.25" fill="none" stroke="#0000ff" stroke-width="3" stroke-linejoin="miter" stroke-linecap="butt"/>
<path d="M587.00 349.60 L734.50 349.60 L734.79 349.60 L734.79 348.90 L735.82 348.90 L735.82 348.20 L736.18 348.20 L736.18 347.50 L736.50 347.50 L736.65 347.50 L736.65 346.69 L736.95 346.69 L736.95 345.87 L737.45 345.87 L737.45 345.06 L738.00 345.06 L738.00 344.24 L738.27 344.24 L738.27 343.43 L738.76 343.43 L738.76 342.61 L739.20 342.61 L739.20 341.80 L739.70 341.80 L739.82 341.80 L739.82 340.95 L740.96 340.95 L740.96 340.10 L741.22 340.10 L741.22 339.25 L742.03 339.25 L742.03 338.40 L742.35 338.40 L742.35 337.55 L742.74 337.55 L742.74 336.70 L743.20 336.70 L744.65 336.70 L744.65 335.80 L747.50 335.80 L747.78 335.80 L747.78 334.95 L748.22 334.95 L748.22 334.10 L750.90 334.10 L750.90 333.25 L751.44 333.25 L751.44 332.40 L751.80 332.40 L752.01 332.40 L752.01 331.53 L752.77 331.53 L752.77 330.67 L753.46 330.67 L753.46 329.80 L753.84 329.80 L753.84 328.93 L754.42 328.93 L754.42 328.07 L755.71 328.07 L755.71 327.20 L756.00 327.20 L758.30 327.20 L758.30 326.00 L762.90 326.00 L766.88 326.00 L766.88 325.00 L771.50 325.00 L773.06 325.00 L773.06 324.25 L773.98 324.25 L773.98 323.50 L774.85 323.50 L774.85 322.75 L777.07 322.75 L777.07 322.00 L780.10 322.00 L780.78 322.00 L780.78 321.17 L783.32 321.17 L783.32 320.33 L785.34 320.33 L785.34 319.50 L788.70 319.50 L789.52 319.50 L789.52 318.62 L791.17 318.62 L791.17 317.75 L791.94 317.75 L791.94 316.88 L793.05 316.88 L793.05 316.00 L793.80 316.00 L794.13 316.00 L794.13 315.24 L794.73 315.24 L794.73 314.49 L795.08 314.49 L795.08 313.73 L795.84 313.73 L795.84 312.98 L796.02 312.98 L796.02 312.22 L796.40 312.22 L796.40 311.47 L796.62 311.47 L796.62 310.71 L796.93 310.71 L796.93 309.96 L797.21 309.96 L797.21 309.20 L797.30 309.20 L798.10 309.20 L798.10 308.40 L799.03 308.40 L799.03 307.60 L799.55 307.60 L799.55 306.80 L800.33 306.80 L800.33 306.00 L800.75 306.00 L803.99 306.00 L803.99 305.08 L805.59 305.08 L805.59 304.17 L808.11 304.17 L808.11 303.25 L809.50 303.25 L810.41 303.25 L810.41 302.25 L812.84 302.25 L812.84 301.25 L817.00 301.25 L817.47 301.25 L817.47 300.42 L818.23 300.42 L818.23 299.58 L819.23 299.58 L819.23 298.75 L819.75 298.75 L820.45 298.75 L820.45 298.00 L820.71 298.00 L820.71 297.25 L820.98 297.25 L820.98 296.50 L821.21 296.50 L821.21 295.75 L821.57 295.75 L821.57 295.00 L821.77 295.00 L821.77 294.25 L822.06 294.25 L822.06 293.50 L822.50 293.50 L822.62 293.50 L822.62 292.62 L823.18 292.62 L823.18 291.75 L823.45 291.75 L823.45 290.88 L823.66 290.88 L823.66 290.00 L824.25 290.00 L824.44 290.00 L824.44 289.18 L824.94 289.18 L824.94 288.36 L825.25 288.36 L825.25 287.54 L825.85 287.54 L825.85 286.71 L826.29 286.71 L826.29 285.89 L826.46 285.89 L826.46 285.07 L826.67 285.07 L826.67 284.25 L826.96 284.25 L826.96 283.43 L827.41 283.43 L827.41 282.61 L827.74 282.61 L827.74 281.79 L828.13 281.79 L828.13 280.96 L828.53 280.96 L828.53 280.14 L828.75 280.14 L828.75 279.32 L828.88 279.32 L828.88 278.50 L829.00 278.50 L829.06 278.50 L829.06 277.69 L829.25 277.69 L829.25 276.88 L829.78 276.88 L829.78 276.06 L830.20 276.06 L830.20 275.25 L830.36 275.25 L830.36 274.44 L830.57 274.44 L830.57 273.62 L830.72 273.62 L830.72 272.81 L830.84 272.81 L830.84 272.00 L830.96 272.00 L830.96 271.19 L831.39 271.19 L831.39 270.38 L831.56 270.38 L831.56 269.56 L831.71 269.56 L831.71 268.75 L831.82 268.75 L831.82 267.94 L832.01 267.94 L832.01 267.12 L832.13 267.12 L832.13 266.31 L832.37 266.31 L832.37 265.50 L832.50 265.50 L833.30 265.50 L833.30 264.75 L834.05 264.75 L834.05 264.00 L834.36 264.00 L834.36 263.25 L835.06 263.25 L835.06 262.50 L835.40 262.50 L835.40 261.75 L835.79 261.75 L835.79 261.00 L836.17 261.00 L836.17 260.25 L836.62 260.25 L836.62 259.50 L838.00 259.50 L838.24 259.50 L838.24 258.67 L839.14 258.67 L839.14 257.85 L839.61 257.85 L839.61 257.02 L839.96 257.02 L839.96 256.19 L841.10 256.19 L841.10 255.37 L841.90 255.37 L841.90 254.54 L842.26 254.54 L842.26 253.71 L842.76 253.71 L842.76 252.88 L843.55 252.88 L843.55 252.06 L843.79 252.06 L843.79 251.23 L844.10 251.23 L844.10 250.40 L844.44 250.40 L844.44 249.58 L844.76 249.58 L844.76 248.75 L845.50 248.75 L845.69 248.75 L845.69 247.92 L845.95 247.92 L845.95 247.08 L846.44 247.08 L846.44 246.25 L846.75 246.25 L846.75 245.42 L847.12 245.42 L847.12 244.58 L847.59 244.58 L847.59 243.75 L847.88 243.75 L847.88 242.92 L848.50 242.92 L848.50 242.08 L849.17 242.08 L849.17 241.25 L850.25 241.25 L850.25 240.42 L850.94 240.42 L850.94 239.58 L851.78 239.58 L851.78 238.75 L853.00 238.75 L853.20 238.75 L853.20 237.94 L853.42 237.94 L853.42 237.13 L853.64 237.13 L853.64 236.32 L854.29 236.32 L854.29 235.51 L854.91 235.51 L854.91 234.71 L855.23 234.71 L855.23 233.90 L855.77 233.90 L855.77 233.09 L856.23 233.09 L856.23 232.28 L856.78 232.28 L856.78 231.47 L857.17 231.47 L857.17 230.66 L857.55 230.66 L857.55 229.85 L857.85 229.85 L857.85 229.04 L858.25 229.04 L858.25 228.24 L858.96 228.24 L858.96 227.43 L859.72 227.43 L859.72 226.62 L860.48 226.62 L860.48 225.81 L861.12 225.81 L861.12 225.00 L861.75 225.00 L862.27 225.00 L862.27 224.17 L862.48 224.17 L862.48 223.33 L862.83 223.33 L862.83 222.50 L863.00 222.50 L863.00 221.67 L864.05 221.67 L864.05 220.83 L864.30 220.83 L864.30 220.00 L864.78 220.00 L864.78 219.17 L865.03 219.17 L865.03 218.33 L865.28 218.33 L865.28 217.50 L865.49 217.50 L865.49 216.67 L865.89 216.67 L865.89 215.83 L866.59 215.83 L866.59 215.00 L866.75 215.00 L866.97 215.00 L866.97 214.17 L867.67 214.17 L867.67 213.33 L867.86 213.33 L867.86 212.50 L868.06 212.50 L868.06 211.67 L868.39 211.67 L868.39 210.83 L868.96 210.83 L868.96 210.00 L869.25 210.00 L869.25 209.17 L869.97 209.17 L869.97 208.33 L870.34 208.33 L870.34 207.50 L870.50 207.50 L870.59 207.50 L870.59 206.72 L870.79 206.72 L870.79 205.94 L871.35 205.94 L871.35 205.17 L871.61 205.17 L871.61 204.39 L871.96 204.39 L871.96 203.61 L872.74 203.61 L872.74 202.83 L873.11 202.83 L873.11 202.06 L873.30 202.06 L873.30 201.28 L873.56 201.28 L873.56 200.50 L873.75 200.50 L874.11 200.50 L874.11 199.73 L874.27 199.73 L874.27 198.96 L874.62 198.96 L874.62 198.19 L874.78 198.19 L874.78 197.42 L875.12 197.42 L875.12 196.65 L875.33 196.65 L875.33 195.88 L875.61 195.88 L875.61 195.10 L875.77 195.10 L875.77 194.33 L876.07 194.33 L876.07 193.56 L876.26 193.56 L876.26 192.79 L876.53 192.79 L876.53 192.02 L876.65 192.02 L876.65 191.25 L876.75 191.25 L876.89 191.25 L876.89 190.44 L877.36 190.44 L877.36 189.63 L877.85 189.63 L877.85 188.82 L878.02 188.82 L878.02 188.01 L878.21 188.01 L878.21 187.21 L878.67 187.21 L878.67 186.40 L878.93 186.40 L878.93 185.59 L879.08 185.59 L879.08 184.78 L879.27 184.78 L879.27 183.97 L879.77 183.97 L879.77 183.16 L880.17 183.16 L880.17 182.35 L880.94 182.35 L880.94 181.54 L881.12 181.54 L881.12 180.74 L881.67 180.74 L881.67 179.93 L882.15 179.93 L882.15 179.12 L882.40 179.12 L882.40 178.31 L882.88 178.31 L882.88 177.50 L883.00 177.50 L883.47 177.50 L883.47 176.72 L884.04 176.72 L884.04 175.94 L884.43 175.94 L884.43 175.16 L884.71 175.16 L884.71 174.38 L885.39 174.38 L885.39 173.59 L886.21 173.59 L886.21 172.81 L886.92 172.81 L886.92 172.03 L887.50 172.03 L887.50 171.25 L887.86 171.25 L887.86 170.47 L888.20 170.47 L888.20 169.69 L888.74 169.69 L888.74 168.91 L888.94 168.91 L888.94 168.12 L889.31 168.12 L889.31 167.34 L889.63 167.34 L889.63 166.56 L889.91 166.56 L889.91 165.78 L890.34 165.78 L890.34 165.00 L890.50 165.00 L890.92 165.00 L890.92 164.20 L891.67 164.20 L891.67 163.41 L892.22 163.41 L892.22 162.61 L893.52 162.61 L893.52 161.82 L894.18 161.82 L894.18 161.02 L894.71 161.02 L894.71 160.23 L896.17 160.23 L896.17 159.43 L896.85 159.43 L896.85 158.64 L898.80 158.64 L898.80 157.84 L899.28 157.84 L899.28 157.05 L900.04 157.05 L900.04 156.25 L900.50 156.25 L901.18 156.25 L901.18 155.42 L901.61 155.42 L901.61 154.58 L902.95 154.58 L902.95 153.75 L903.61 153.75 L903.61 152.92 L904.49 152.92 L904.49 152.08 L905.11 152.08 L905.11 151.25 L906.79 151.25 L906.79 150.42 L907.47 150.42 L907.47 149.58 L908.97 149.58 L908.97 148.75 L909.38 148.75 L909.38 147.92 L910.03 147.92 L910.03 147.08 L910.66 147.08 L910.66 146.25 L911.75 146.25 L911.96 146.25 L911.96 145.42 L912.67 145.42 L912.67 144.58 L913.08 144.58 L913.08 143.75 L914.23 143.75 L914.23 142.92 L915.47 142.92 L915.47 142.08 L916.32 142.08 L916.32 141.25 L917.17 141.25 L917.17 140.42 L918.07 140.42 L918.07 139.58 L918.57 139.58 L918.57 138.75 L919.17 138.75 L919.17 137.92 L919.49 137.92 L919.49 137.08 L919.96 137.08 L919.96 136.25 L920.50 136.25 L920.91 136.25 L920.91 135.42 L921.62 135.42 L921.62 134.58 L922.03 134.58 L922.03 133.75 L922.67 133.75 L922.67 132.92 L923.44 132.92 L923.44 132.08 L923.78 132.08 L923.78 131.25 L924.94 131.25 L924.94 130.42 L925.53 130.42 L925.53 129.58 L927.80 129.58 L927.80 128.75 L929.13 128.75 L929.13 127.92 L929.82 127.92 L929.82 127.08 L930.26 127.08 L930.26 126.25 L930.50 126.25 L930.73 126.25 L930.73 125.42 L931.24 125.42 L931.24 124.58 L931.93 124.58 L931.93 123.75 L933.19 123.75 L933.19 122.92 L933.76 122.92 L933.76 122.08 L934.11 122.08 L934.11 121.25 L935.37 121.25 L935.37 120.42 L935.86 120.42 L935.86 119.58 L936.91 119.58 L936.91 118.75 L937.58 118.75 L937.58 117.92 L939.46 117.92 L939.46 117.08 L940.23 117.08 L940.23 116.25 L940.50 116.25 L941.06 116.25 L941.06 115.45 L941.71 115.45 L941.71 114.66 L942.70 114.66 L942.70 113.86 L943.65 113.86 L943.65 113.07 L945.39 113.07 L945.39 112.27 L946.21 112.27 L946.21 111.48 L946.99 111.48 L946.99 110.68 L948.71 110.68 L948.71 109.89 L949.41 109.89 L949.41 109.09 L949.77 109.09 L949.77 108.30 L950.20 108.30 L950.20 107.50 L950.50 107.50 L951.07 107.50 L951.07 106.72 L952.22 106.72 L952.22 105.94 L952.63 105.94 L952.63 105.17 L953.09 105.17 L953.09 104.39 L953.58 104.39 L953.58 103.61 L954.61 103.61 L954.61 102.83 L955.41 102.83 L955.41 102.06 L956.34 102.06 L956.34 101.28 L958.24 101.28 L958.24 100.50 L958.50 100.50 L959.96 100.50 L959.96 99.66 L960.36 99.66 L960.36 98.81 L960.75 98.81 L960.75 97.97 L961.37 97.97 L961.37 97.12 L962.78 97.12 L962.78 96.28 L963.16 96.28 L963.16 95.44 L964.33 95.44 L964.33 94.59 L965.08 94.59 L965.08 93.75 L965.50 93.75 L965.73 93.75 L965.73 92.95 L966.23 92.95 L966.23 92.16 L967.28 92.16 L967.28 91.36 L967.56 91.36 L967.56 90.57 L968.09 90.57 L968.09 89.77 L968.50 89.77 L968.50 88.98 L969.72 88.98 L969.72 88.18 L970.03 88.18 L970.03 87.39 L970.42 87.39 L970.42 86.59 L970.77 86.59 L970.77 85.80 L972.38 85.80 L972.38 85.00 L973.00 85.00 L973.59 85.00 L973.59 84.22 L974.05 84.22 L974.05 83.44 L974.90 83.44 L974.90 82.66 L976.06 82.66 L976.06 81.88 L977.56 81.88 L977.56 81.09 L978.74 81.09 L978.74 80.31 L980.00 80.31 L980.00 79.53 L980.81 79.53 L980.81 78.75 L981.75 78.75 L982.35 78.75 L982.35 77.92 L983.24 77.92 L983.24 77.08 L984.40 77.08 L984.40 76.25 L985.74 76.25 L985.74 75.42 L987.58 75.42 L987.58 74.58 L988.06 74.58 L988.06 73.75 L988.59 73.75 L988.59 72.92 L989.65 72.92 L989.65 72.08 L990.23 72.08 L990.23 71.25 L990.50 71.25 L991.47 71.25 L991.47 70.42 L992.35 70.42 L992.35 69.58 L993.93 69.58 L993.93 68.75 L995.92 68.75 L995.92 67.92 L998.86 67.92 L998.86 67.08 L999.68 67.08 L999.68 66.25 L1000.50 66.25 L1001.02 66.25 L1001.02 65.50 L1003.21 65.50 L1003.21 64.75 L1006.47 64.75 L1006.47 64.00 L1007.69 64.00 L1007.69 63.25 L1008.43 63.25 L1008.43 62.50 L1009.25 62.50 L1009.98 62.50 L1009.98 61.75 L1011.92 61.75 L1011.92 61.00 L1012.49 61.00 L1012.49 60.25 L1013.17 60.25 L1013.17 59.50 L1013.77 59.50 L1013.77 58.75 L1014.25 58.75 L1015.06 58.75 L1015.06 57.88 L1016.57 57.88 L1016.57 57.00 L1018.40 57.00" fill="none" stroke="#008000" stroke-width="3" stroke-linejoin="miter" stroke-linecap="butt" stroke-dasharray="6.6 5.2"/>
<path d="M587.00 345.50 L711.00 345.30 L712.40 345.30 L712.40 344.20 L716.00 344.20 L718.83 344.20 L718.83 342.30 L720.00 342.30 L721.77 342.30 L721.77 340.75 L725.31 340.75 L725.31 339.20 L727.00 339.20 L727.48 339.20 L727.48 337.84 L728.95 337.84 L728.95 336.48 L729.49 336.48 L729.49 335.12 L730.35 335.12 L730.35 333.76 L731.17 333.76 L731.17 332.40 L732.00 332.40 L732.52 332.40 L732.52 330.90 L735.15 330.90 L735.15 329.40 L737.45 329.40 L737.45 327.90 L738.56 327.90 L738.56 326.40 L739.70 326.40 L740.10 326.40 L740.10 325.10 L741.94 325.10 L741.94 323.80 L743.73 323.80 L743.73 322.50 L745.81 322.50 L745.81 321.20 L747.50 321.20 L747.79 321.20 L747.79 319.77 L748.21 319.77 L748.21 318.33 L750.45 318.33 L750.45 316.90 L752.15 316.90 L752.15 315.47 L752.68 315.47 L752.68 314.03 L753.10 314.03 L753.10 312.60 L753.50 312.60 L753.66 312.60 L753.66 311.13 L754.23 311.13 L754.23 309.66 L754.44 309.66 L754.44 308.19 L754.96 308.19 L754.96 306.71 L755.24 306.71 L755.24 305.24 L755.46 305.24 L755.46 303.77 L755.77 303.77 L755.77 302.30 L756.90 302.30 L757.02 302.30 L757.02 300.83 L757.53 300.83 L757.53 299.36 L757.72 299.36 L757.72 297.89 L757.89 297.89 L757.89 296.41 L758.15 296.41 L758.15 294.94 L758.61 294.94 L758.61 293.47 L759.43 293.47 L759.43 292.00 L759.80 292.00 L760.07 292.00 L760.07 290.62 L760.32 290.62 L760.32 289.25 L760.71 289.25 L760.71 287.88 L761.22 287.88 L761.22 286.50 L761.51 286.50 L761.51 285.12 L761.78 285.12 L761.78 283.75 L762.15 283.75 L762.15 282.38 L762.52 282.38 L762.52 281.00 L762.60 281.00 L763.30 281.00 L763.30 279.62 L763.72 279.62 L763.72 278.25 L764.22 278.25 L764.22 276.88 L764.56 276.88 L764.56 275.50 L764.82 275.50 L764.82 274.12 L765.23 274.12 L765.23 272.75 L765.51 272.75 L765.51 271.38 L765.79 271.38 L765.79 270.00 L766.00 270.00 L766.15 270.00 L766.15 268.62 L766.61 268.62 L766.61 267.25 L766.92 267.25 L766.92 265.88 L767.46 265.88 L767.46 264.50 L767.81 264.50 L767.81 263.12 L768.06 263.12 L768.06 261.75 L768.30 261.75 L768.30 260.38 L768.71 260.38 L768.71 259.00 L769.07 259.00 L769.07 257.62 L769.33 257.62 L769.33 256.25 L769.75 256.25 L769.93 256.25 L769.93 254.89 L770.15 254.89 L770.15 253.52 L771.33 253.52 L771.33 252.16 L771.57 252.16 L771.57 250.80 L771.89 250.80 L771.89 249.43 L772.22 249.43 L772.22 248.07 L772.46 248.07 L772.46 246.70 L772.68 246.70 L772.68 245.34 L773.32 245.34 L773.32 243.98 L773.59 243.98 L773.59 242.61 L773.99 242.61 L773.99 241.25 L774.75 241.25 L775.22 241.25 L775.22 239.86 L775.89 239.86 L775.89 238.47 L776.30 238.47 L776.30 237.08 L776.55 237.08 L776.55 235.69 L776.83 235.69 L776.83 234.31 L777.40 234.31 L777.40 232.92 L777.77 232.92 L777.77 231.53 L778.21 231.53 L778.21 230.14 L778.38 230.14 L778.38 228.75 L778.50 228.75 L778.58 228.75 L778.58 227.40 L779.21 227.40 L779.21 226.04 L779.42 226.04 L779.42 224.69 L779.97 224.69 L779.97 223.33 L780.22 223.33 L780.22 221.98 L780.42 221.98 L780.42 220.62 L780.61 220.62 L780.61 219.27 L781.20 219.27 L781.20 217.92 L781.41 217.92 L781.41 216.56 L781.68 216.56 L781.68 215.21 L781.96 215.21 L781.96 213.85 L782.09 213.85 L782.09 212.50 L782.25 212.50 L782.46 212.50 L782.46 211.11 L782.95 211.11 L782.95 209.72 L783.63 209.72 L783.63 208.33 L784.00 208.33 L784.00 206.94 L784.26 206.94 L784.26 205.56 L784.45 205.56 L784.45 204.17 L785.00 204.17 L785.00 202.78 L785.32 202.78 L785.32 201.39 L785.62 201.39 L785.62 200.00 L786.00 200.00 L786.62 200.00 L786.62 198.50 L786.84 198.50 L786.84 197.00 L787.23 197.00 L787.23 195.50 L787.46 195.50 L787.46 194.00 L787.71 194.00 L787.71 192.50 L788.50 192.50 L788.60 192.50 L788.60 191.06 L788.95 191.06 L788.95 189.62 L789.16 189.62 L789.16 188.19 L789.62 188.19 L789.62 186.75 L789.94 186.75 L789.94 185.31 L790.11 185.31 L790.11 183.88 L790.25 183.88 L790.25 182.44 L790.73 182.44 L790.73 181.00 L791.00 181.00 L791.11 181.00 L791.11 179.60 L791.28 179.60 L791.28 178.20 L791.60 178.20 L791.60 176.80 L792.17 176.80 L792.17 175.40 L793.34 175.40 L793.34 174.00 L793.69 174.00 L793.69 172.60 L793.95 172.60 L793.95 171.20 L794.12 171.20 L794.12 169.80 L794.32 169.80 L794.32 168.40 L794.54 168.40 L794.54 167.00 L795.00 167.00 L795.26 167.00 L795.26 165.58 L795.52 165.58 L795.52 164.17 L795.81 164.17 L795.81 162.75 L795.98 162.75 L795.98 161.33 L796.35 161.33 L796.35 159.92 L796.56 159.92 L796.56 158.50 L796.84 158.50 L796.84 157.08 L797.05 157.08 L797.05 155.67 L797.50 155.67 L797.50 154.25 L797.85 154.25 L797.85 152.83 L798.26 152.83 L798.26 151.42 L798.65 151.42 L798.65 150.00 L799.50 150.00 L799.63 150.00 L799.63 148.55 L799.98 148.55 L799.98 147.09 L800.31 147.09 L800.31 145.64 L800.51 145.64 L800.51 144.18 L801.08 144.18 L801.08 142.73 L801.31 142.73 L801.31 141.27 L801.58 141.27 L801.58 139.82 L801.82 139.82 L801.82 138.36 L802.19 138.36 L802.19 136.91 L802.84 136.91 L802.84 135.45 L803.19 135.45 L803.19 134.00 L803.50 134.00 L803.62 134.00 L803.62 132.62 L803.78 132.62 L803.78 131.23 L804.28 131.23 L804.28 129.85 L804.47 129.85 L804.47 128.46 L804.79 128.46 L804.79 127.08 L804.94 127.08 L804.94 125.69 L805.92 125.69 L805.92 124.31 L806.15 124.31 L806.15 122.92 L806.68 122.92 L806.68 121.54 L806.90 121.54 L806.90 120.15 L807.08 120.15 L807.08 118.77 L807.45 118.77 L807.45 117.38 L808.11 117.38 L808.11 116.00 L808.25 116.00 L808.46 116.00 L808.46 114.59 L809.18 114.59 L809.18 113.18 L809.35 113.18 L809.35 111.77 L809.53 111.77 L809.53 110.36 L809.85 110.36 L809.85 108.95 L810.43 108.95 L810.43 107.55 L810.71 107.55 L810.71 106.14 L810.90 106.14 L810.90 104.73 L811.55 104.73 L811.55 103.32 L811.73 103.32 L811.73 101.91 L812.10 101.91 L812.10 100.50 L812.25 100.50 L812.39 100.50 L812.39 99.12 L812.71 99.12 L812.71 97.75 L813.56 97.75 L813.56 96.38 L813.97 96.38 L813.97 95.00 L814.50 95.00 L814.50 93.62 L815.68 93.62 L815.68 92.25 L816.30 92.25 L816.30 90.88 L816.71 90.88 L816.71 89.50 L817.00 89.50 L817.82 89.50 L817.82 88.14 L819.67 88.14 L819.67 86.79 L820.53 86.79 L820.53 85.43 L821.32 85.43 L821.32 84.07 L821.86 84.07 L821.86 82.71 L822.57 82.71 L822.57 81.36 L822.97 81.36 L822.97 80.00 L823.25 80.00 L823.61 80.00 L823.61 78.67 L824.03 78.67 L824.03 77.33 L824.25 77.33 L824.25 76.00 L824.80 76.00 L824.80 74.67 L825.06 74.67 L825.06 73.33 L825.39 73.33 L825.39 72.00 L825.78 72.00 L825.78 70.67 L826.36 70.67 L826.36 69.33 L826.57 69.33 L826.57 68.00 L827.50 68.00 L827.72 68.00 L827.72 66.67 L828.89 66.67 L828.89 65.33 L829.31 65.33 L829.31 64.00 L830.17 64.00 L830.17 62.67 L831.61 62.67 L831.61 61.33 L832.03 61.33 L832.03 60.00 L832.50 60.00 L833.35 60.00 L833.35 58.54 L833.75 58.54 L833.75 57.08 L834.50 57.08 L834.50 55.62 L834.90 55.62 L834.90 54.17 L836.73 54.17 L836.73 52.71 L837.77 52.71 L837.77 51.25 L838.00 51.25 L839.23 51.25 L839.23 49.75 L840.62 49.75 L840.62 48.25 L841.51 48.25 L841.51 46.75 L842.05 46.75 L842.05 45.25 L842.60 45.25 L842.60 43.75 L843.00 43.75 L844.91 43.75 L844.91 42.50 L847.41 42.50 L847.41 41.25 L849.62 41.25 L849.62 40.00 L852.41 40.00 L852.41 38.75 L853.00 38.75 L854.01 38.75 L854.01 37.50 L855.52 37.50 L855.52 36.25 L859.85 36.25 L859.85 35.00 L861.97 35.00 L861.97 33.75 L863.00 33.75 L864.78 33.75 L864.78 32.19 L868.10 32.19 L868.10 30.62 L870.05 30.62 L870.05 29.06 L871.55 29.06 L871.55 27.50 L873.00 27.50 L874.81 27.50 L874.81 26.25 L876.03 26.25 L876.03 25.00 L877.16 25.00 L877.16 23.75 L880.50 23.75 L886.28 23.75 L886.28 22.12 L890.76 22.12 L890.76 20.50 L893.00 20.50 L898.41 20.50 L898.41 19.00 L900.00 19.00 L908.79 19.00 L908.79 18.00 L912.00 18.00 L915.66 18.00 L915.66 17.00 L925.00 17.00 L931.37 17.00 L931.37 16.70 L937.00 16.70 L940.41 16.70 L940.41 16.20 L950.00 16.20 L978.00 15.90" fill="none" stroke="#ff0000" stroke-width="3" stroke-linejoin="miter" stroke-linecap="butt" stroke-dasharray="3.0 4.7 1.2 4.6"/>
<path d="M587.00 345.70 L711.00 345.50 L712.63 345.50 L712.63 344.50 L718.28 344.50 L718.28 343.50 L720.00 343.50 L721.52 343.50 L721.52 342.37 L723.43 342.37 L723.43 341.23 L725.46 341.23 L725.46 340.10 L726.90 340.10 L727.29 340.10 L727.29 339.06 L728.10 339.06 L728.10 338.02 L730.09 338.02 L730.09 336.98 L731.46 336.98 L731.46 335.94 L732.57 335.94 L732.57 334.90 L733.70 334.90 L735.95 334.90 L735.95 333.77 L738.24 333.77 L738.24 332.63 L739.46 332.63 L739.46 331.50 L740.60 331.50 L741.38 331.50 L741.38 330.65 L744.97 330.65 L744.97 329.80 L748.30 329.80 L748.96 329.80 L748.96 328.73 L750.34 328.73 L750.34 327.65 L751.07 327.65 L751.07 326.57 L751.51 326.57 L751.51 325.50 L751.80 325.50 L751.97 325.50 L751.97 324.35 L752.20 324.35 L752.20 323.20 L752.81 323.20 L752.81 322.05 L753.37 322.05 L753.37 320.90 L753.92 320.90 L753.92 319.75 L754.96 319.75 L754.96 318.60 L755.20 318.60 L755.33 318.60 L755.33 317.49 L755.85 317.49 L755.85 316.38 L755.99 316.38 L755.99 315.27 L756.15 315.27 L756.15 314.16 L756.29 314.16 L756.29 313.05 L756.54 313.05 L756.54 311.94 L756.95 311.94 L756.95 310.83 L757.11 310.83 L757.11 309.72 L757.29 309.72 L757.29 308.61 L757.50 308.61 L757.50 307.50 L758.60 307.50 L758.72 307.50 L758.72 306.36 L759.07 306.36 L759.07 305.21 L759.36 305.21 L759.36 304.07 L759.81 304.07 L759.81 302.92 L760.42 302.92 L760.42 301.78 L760.74 301.78 L760.74 300.63 L761.29 300.63 L761.29 299.49 L761.49 299.49 L761.49 298.34 L761.91 298.34 L761.91 297.20 L762.00 297.20 L762.91 297.20 L762.91 296.12 L763.44 296.12 L763.44 295.05 L764.10 295.05 L764.10 293.98 L764.54 293.98 L764.54 292.90 L764.87 292.90 L764.87 291.82 L765.11 291.82 L765.11 290.75 L765.62 290.75 L765.62 289.68 L766.12 289.68 L766.12 288.60 L766.40 288.60 L766.70 288.60 L766.70 287.47 L767.78 287.47 L767.78 286.33 L769.03 286.33 L769.03 285.20 L769.69 285.20 L769.69 284.07 L770.92 284.07 L770.92 282.93 L771.42 282.93 L771.42 281.80 L772.00 281.80 L772.89 281.80 L772.89 280.67 L774.27 280.67 L774.27 279.53 L775.22 279.53 L775.22 278.40 L776.15 278.40 L776.15 277.27 L776.69 277.27 L776.69 276.13 L777.49 276.13 L777.49 275.00 L778.50 275.00 L778.86 275.00 L778.86 273.92 L779.33 273.92 L779.33 272.83 L781.52 272.83 L781.52 271.75 L782.02 271.75 L782.02 270.67 L782.67 270.67 L782.67 269.58 L783.34 269.58 L783.34 268.50 L783.85 268.50 L783.85 267.42 L784.31 267.42 L784.31 266.33 L786.10 266.33 L786.10 265.25 L787.50 265.25 L789.22 265.25 L789.22 264.25 L790.54 264.25 L790.54 263.25 L791.53 263.25 L791.53 262.25 L793.14 262.25 L793.14 261.25 L793.50 261.25 L794.48 261.25 L794.48 260.18 L795.19 260.18 L795.19 259.11 L796.83 259.11 L796.83 258.04 L797.43 258.04 L797.43 256.96 L798.90 256.96 L798.90 255.89 L799.73 255.89 L799.73 254.82 L800.71 254.82 L800.71 253.75 L801.00 253.75 L802.95 253.75 L802.95 252.71 L804.75 252.71 L804.75 251.67 L805.75 251.67 L805.75 250.62 L806.62 250.62 L806.62 249.58 L807.47 249.58 L807.47 248.54 L810.38 248.54 L810.38 247.50 L811.00 247.50 L815.84 247.50 L815.84 246.25 L817.25 246.25 L817.64 246.25 L817.64 245.38 L820.14 245.38 L820.14 244.50 L821.00 244.50 L823.46 244.50 L823.46 243.30 L824.95 243.30 L824.95 242.10 L825.80 242.10 L825.80 240.90 L826.41 240.90 L826.41 239.70 L827.24 239.70 L827.24 238.50 L828.00 238.50 L828.55 238.50 L828.55 237.46 L830.82 237.46 L830.82 236.42 L832.03 236.42 L832.03 235.38 L832.66 235.38 L832.66 234.34 L834.62 234.34 L834.62 233.30 L835.50 233.30 L836.90 233.30 L836.90 232.20 L839.18 232.20 L839.18 231.10 L840.27 231.10 L840.27 230.00 L843.00 230.00 L845.15 230.00 L845.15 228.65 L846.60 228.65 L846.60 227.30 L850.00 227.30 L855.75 227.30 L855.75 226.00 L861.00 226.00 L865.95 226.00 L865.95 224.77 L869.23 224.77 L869.23 223.53 L871.26 223.53 L871.26 222.30 L875.50 222.30 L876.54 222.30 L876.54 221.37 L879.33 221.37 L879.33 220.43 L881.39 220.43 L881.39 219.50 L888.00 219.50 L893.01 219.50 L893.01 218.50 L895.85 218.50 L895.85 217.50 L897.11 217.50 L897.11 216.50 L898.83 216.50 L898.83 215.50 L900.50 215.50 L902.28 215.50 L902.28 214.33 L906.09 214.33 L906.09 213.17 L907.29 213.17 L907.29 212.00 L908.60 212.00 L909.03 212.00 L909.03 210.88 L909.78 210.88 L909.78 209.75 L910.82 209.75 L910.82 208.62 L914.18 208.62 L914.18 207.50 L916.00 207.50 L916.93 207.50 L916.93 206.30 L918.37 206.30 L918.37 205.10 L919.58 205.10 L919.58 203.90 L921.76 203.90 L921.76 202.70 L923.16 202.70 L923.16 201.50 L924.80 201.50 L925.73 201.50 L925.73 200.39 L927.20 200.39 L927.20 199.29 L928.02 199.29 L928.02 198.18 L929.60 198.18 L929.60 197.07 L931.80 197.07 L931.80 195.96 L933.13 195.96 L933.13 194.86 L935.34 194.86 L935.34 193.75 L938.00 193.75 L938.68 193.75 L938.68 192.60 L941.92 192.60 L941.92 191.45 L943.40 191.45 L943.40 190.30 L944.66 190.30 L944.66 189.15 L946.05 189.15 L946.05 188.00 L950.50 188.00 L951.41 188.00 L951.41 187.00 L952.77 187.00 L952.77 186.00 L956.00 186.00 L956.28 186.00 L956.28 184.93 L956.69 184.93 L956.69 183.86 L957.88 183.86 L957.88 182.79 L959.54 182.79 L959.54 181.71 L960.34 181.71 L960.34 180.64 L961.63 180.64 L961.63 179.57 L962.38 179.57 L962.38 178.50 L963.00 178.50 L963.97 178.50 L963.97 177.50 L964.72 177.50 L964.72 176.50 L967.71 176.50 L967.71 175.50 L968.47 175.50 L968.47 174.50 L970.00 174.50 L970.95 174.50 L970.95 173.40 L972.46 173.40 L972.46 172.30 L973.34 172.30 L973.34 171.20 L974.17 171.20 L974.17 170.10 L975.20 170.10 L975.20 169.00 L975.50 169.00 L976.33 169.00 L976.33 167.88 L977.24 167.88 L977.24 166.75 L978.02 166.75 L978.02 165.62 L978.83 165.62 L978.83 164.50 L980.00 164.50 L982.08 164.50 L982.08 163.42 L984.36 163.42 L984.36 162.33 L985.70 162.33 L985.70 161.25 L988.00 161.25 L988.75 161.25 L988.75 160.16 L991.18 160.16 L991.18 159.06 L991.86 159.06 L991.86 157.97 L992.52 157.97 L992.52 156.88 L997.25 156.88 L997.25 155.78 L998.00 155.78 L998.00 154.69 L999.11 154.69 L999.11 153.59 L999.95 153.59 L999.95 152.50 L1000.50 152.50 L1000.84 152.50 L1000.84 151.43 L1001.58 151.43 L1001.58 150.36 L1003.44 150.36 L1003.44 149.29 L1005.00 149.29 L1005.00 148.21 L1007.53 148.21 L1007.53 147.14 L1008.56 147.14 L1008.56 146.07 L1009.49 146.07 L1009.49 145.00 L1010.50 145.00 L1011.84 145.00 L1011.84 143.75 L1014.78 143.75 L1014.78 142.50 L1017.69 142.50 L1017.69 141.25 L1018.40 141.25" fill="none" stroke="#00bfbf" stroke-width="3" stroke-linejoin="miter" stroke-linecap="butt" stroke-dasharray="1.35 2.55"/>
</g>
<path d="M633.85 349.25 v-4 M633.85 14.60 v4 M788.94 349.25 v-4 M788.94 14.60 v4 M944.00 349.25 v-4 M944.00 14.60 v4 M587.15 349.25 h4.2 M1018.35 349.25 h-3.8 M587.15 282.32 h4.2 M1018.35 282.32 h-3.8 M587.15 215.39 h4.2 M1018.35 215.39 h-3.8 M587.15 148.46 h4.2 M1018.35 148.46 h-3.8 M587.15 81.53 h4.2 M1018.35 81.53 h-3.8 M587.15 14.60 h4.2 M1018.35 14.60 h-3.8 M587.12 349.25 v-2.3 M587.12 14.60 v2.3 M599.41 349.25 v-2.3 M599.41 14.60 v2.3 M609.80 349.25 v-2.3 M609.80 14.60 v2.3 M618.80 349.25 v-2.3 M618.80 14.60 v2.3 M626.74 349.25 v-2.3 M626.74 14.60 v2.3 M680.56 349.25 v-2.3 M680.56 14.60 v2.3 M707.89 349.25 v-2.3 M707.89 14.60 v2.3 M727.28 349.25 v-2.3 M727.28 14.60 v2.3 M742.32 349.25 v-2.3 M742.32 14.60 v2.3 M754.61 349.25 v-2.3 M754.61 14.60 v2.3 M765.00 349.25 v-2.3 M765.00 14.60 v2.3 M774.00 349.25 v-2.3 M774.00 14.60 v2.3 M781.94 349.25 v-2.3 M781.94 14.60 v2.3 M835.76 349.25 v-2.3 M835.76 14.60 v2.3 M863.09 349.25 v-2.3 M863.09 14.60 v2.3 M882.48 349.25 v-2.3 M882.48 14.60 v2.3 M897.52 349.25 v-2.3 M897.52 14.60 v2.3 M909.81 349.25 v-2.3 M909.81 14.60 v2.3 M920.20 349.25 v-2.3 M920.20 14.60 v2.3 M929.20 349.25 v-2.3 M929.20 14.60 v2.3 M937.14 349.25 v-2.3 M937.14 14.60 v2.3 M990.96 349.25 v-2.3 M990.96 14.60 v2.3 M1018.29 349.25 v-2.3 M1018.29 14.60 v2.3" stroke="#000" stroke-width="0.75" fill="none" opacity="0.9"/>
<rect x="587.15" y="14.60" width="431.20" height="334.65" fill="none" stroke="#111" stroke-width="1.5"/>
<g font-family='"DejaVu Sans", "Liberation Sans", sans-serif' font-size="21.3" fill="#000" text-anchor="end">
<text x="586.85" y="357.45">0</text>
<text x="586.85" y="290.52">20</text>
<text x="586.85" y="223.59">40</text>
<text x="586.85" y="156.66">60</text>
<text x="586.85" y="89.73">80</text>
<text x="586.85" y="22.80">100</text>
</g>
<g font-family='"DejaVu Sans", "Liberation Sans", sans-serif' font-size="21.3" fill="#000">
<text x="611.87" y="376.6">10<tspan font-size="14.91" dx="-0.8" dy="-12.5">-1</tspan></text>
<text x="769.65" y="376.6">10<tspan font-size="14.91" dx="-0.8" dy="-12.5">0</tspan></text>
<text x="924.71" y="376.6">10<tspan font-size="14.91" dx="-0.8" dy="-12.5">1</tspan></text>
</g>
<text x="803.65" y="399.3" font-family='"DejaVu Sans", "Liberation Sans", sans-serif' font-size="21.3" text-anchor="middle" fill="#000">time (s)</text>
<text transform="translate(538.65 291.0) rotate(-90)" font-family='"DejaVu Sans", "Liberation Sans", sans-serif' font-size="21.3" fill="#000" word-spacing="-1.1"><tspan letter-spacing="0.04">instances solved </tspan><tspan letter-spacing="-0.75">(%)</tspan></text>
<rect x="594.70" y="22.45" width="151.50" height="99.85" fill="#fff" stroke="#000" stroke-width="1.25"/>
<line x1="604.30" y1="35.85" x2="628.60" y2="35.85" stroke="#0000ff" stroke-width="3"/>
<text x="644.50" y="41.05" font-family='"DejaVu Sans", "Liberation Sans", sans-serif' font-size="15.6" fill="#000">path <tspan class="n" font-family='"Liberation Serif", "DejaVu Serif", serif' font-size="16" letter-spacing="0.35">0.1/0.05</tspan></text>
<line x1="605.30" y1="59.55" x2="628.60" y2="59.55" stroke="#008000" stroke-width="3" stroke-dasharray="6.2 5.6"/>
<text x="644.50" y="64.85" font-family='"DejaVu Sans", "Liberation Sans", sans-serif' font-size="15.6" fill="#000">tree <tspan class="n" font-family='"Liberation Serif", "DejaVu Serif", serif' font-size="16" letter-spacing="0.35">0.1/0.05</tspan></text>
<line x1="605.30" y1="83.25" x2="628.60" y2="83.25" stroke="#ff0000" stroke-width="3" stroke-dasharray="3.2 4.5 1.2 4.6"/>
<text x="644.50" y="88.65" font-family='"DejaVu Sans", "Liberation Sans", sans-serif' font-size="15.6" fill="#000">path <tspan class="n" font-family='"Liberation Serif", "DejaVu Serif", serif' font-size="16" letter-spacing="0.35">0.05/0.1</tspan></text>
<line x1="605.30" y1="106.95" x2="628.60" y2="106.95" stroke="#00bfbf" stroke-width="3" stroke-dasharray="1.2 2.7"/>
<text x="644.50" y="112.45" font-family='"DejaVu Sans", "Liberation Sans", sans-serif' font-size="15.6" fill="#000">tree <tspan class="n" font-family='"Liberation Serif", "DejaVu Serif", serif' font-size="16" letter-spacing="0.35">0.05/0.1</tspan></text>
</g>
</svg>
</body>
</html>
